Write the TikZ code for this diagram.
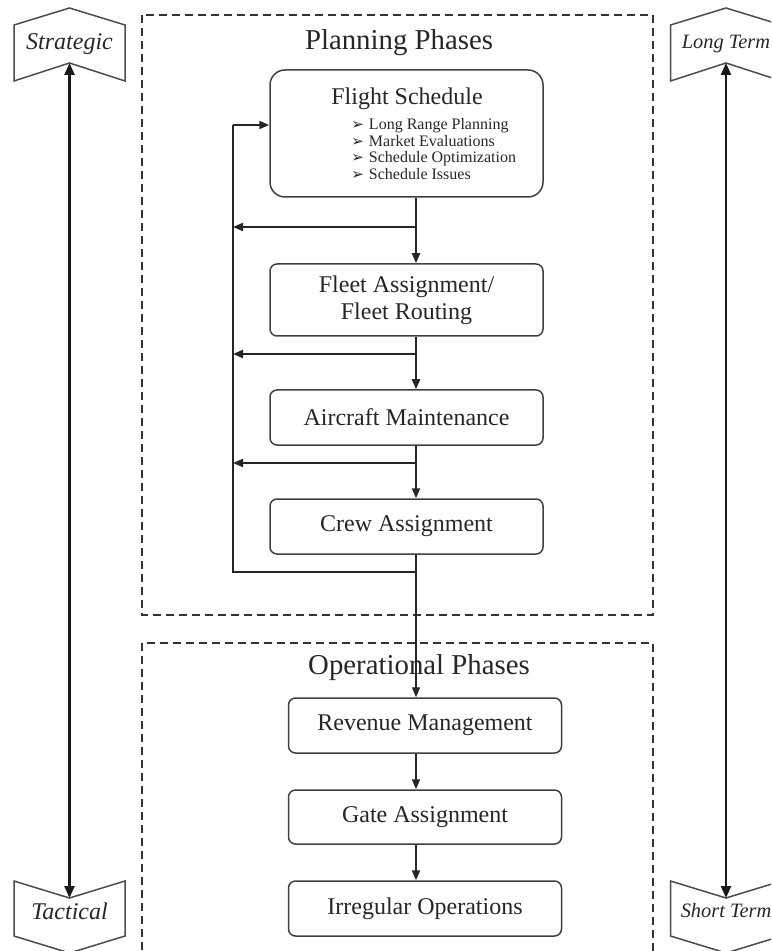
\documentclass[tikz,border=0pt]{standalone}
\usepackage{fontspec}
\setmainfont{Liberation Serif}
\newfontfamily\dingfont{DejaVu Sans}
\usetikzlibrary{calc}
\usetikzlibrary{arrows.meta}
\tikzstyle{frame}=[draw=black!80,line width=1pt,dash pattern=on 4pt off 2.5pt]
\tikzstyle{phasetitle}=[font=\fontsize{14.4}{16}\selectfont,text=black!85,inner sep=1pt]
\tikzstyle{phasebox}=[draw=black!75,line width=0.75pt,rounded corners=3.5pt,minimum width=136.5pt,inner sep=0pt,text=black!85,font=\fontsize{12}{13.5}\selectfont]
\tikzstyle{flow}=[-{Triangle[length=5pt,width=4pt]},line width=1pt,black!85]
\tikzstyle{horizon}=[{Triangle[length=6pt,width=5pt]}-{Triangle[length=6pt,width=5pt]},line width=1.2pt,black!90]
\tikzstyle{chevron}=[draw=black!70,line width=0.75pt]
\tikzstyle{chevtext}=[font=\fontsize{12}{14}\selectfont\itshape,text=black!85,inner sep=1pt]
\newcommand{\bul}{{\dingfont\fontsize{7.5}{7.5}\selectfont ➢}\hspace{2.5pt}}
\newcommand{\smallitalic}{\fontsize{10.2}{12}\selectfont}
\def\chevronup(#1)[#2]#3{% (centre x)[name]{label}, points up
  \draw[chevron] (#1-55.5,25) -- (#1,8) -- (#1+55.5,25) -- (#1+55.5,81) -- (#1,63) -- (#1-55.5,81) -- cycle;
  \node[chevtext] (#2) at (#1,44) {#3};
  \coordinate (#2tip) at (#1,63);
}
\def\chevrondown(#1)[#2]#3{% (centre x)[name]{label}, points down
  \draw[chevron] (#1-55.5,881) -- (#1,898) -- (#1+55.5,881) -- (#1+55.5,936) -- (#1,953) -- (#1-55.5,936) -- cycle;
  \node[chevtext] (#2) at (#1,911) {#3};
  \coordinate (#2tip) at (#1,898);
}
\begin{document}
\begin{tikzpicture}[x=0.5pt,y=-0.5pt]
  \useasboundingbox (0,0) rectangle (771,951);
  \clip (0,0) rectangle (771,951);
  % phase frames
  \draw[frame] (142,15) rectangle (653,615);
  \draw[frame] (142,643) rectangle (653,990);
  \node[phasetitle] (planning) at (399,43) {Planning Phases};
  \node[phasetitle] (operational) at (419,668) {Operational Phases};
  % time horizons
  \chevronup(69.5)[strategic]{Strategic}
  \chevrondown(69.5)[tactical]{Tactical}
  \chevronup(726)[longterm]{\smallitalic Long Term}
  \chevrondown(726)[shortterm]{\smallitalic Short Term}
  \draw[horizon] (strategictip) -- (tacticaltip);
  \draw[horizon] (longtermtip) -- (shorttermtip);
  % planning boxes
  \node[phasebox,rounded corners=7.5pt,minimum height=63.5pt] (flight) at (406.5,133.5) {};
  \node[font=\fontsize{12}{14}\selectfont,text=black!85,inner sep=1pt] (flighttitle) at (407,99) {Flight Schedule};
  \node[anchor=west,align=left,inner sep=0pt,text=black!85,font=\fontsize{8}{8.35}\selectfont] (flightitems) at (351,149)
    {\bul Long Range Planning\\ \bul Market Evaluations\\ \bul Schedule Optimization\\ \bul Schedule Issues};
  \node[phasebox,minimum height=36pt,align=center] (fleet) at (406.5,300) {Fleet Assignment/\\Fleet Routing};
  \node[phasebox,minimum height=27.5pt] (aircraft) at (406.5,417.5) {Aircraft Maintenance};
  \node[phasebox,minimum height=27.5pt] (crew) at (406.5,526.5) {Crew Assignment};
  % operational boxes
  \node[phasebox,minimum height=27.5pt] (revenue) at (425,725.5) {Revenue Management};
  \node[phasebox,minimum height=27pt] (gate) at (425,817) {Gate Assignment};
  \node[phasebox,minimum height=27.5pt] (irregular) at (425,908.5) {Irregular Operations};
  % spine, splits and feedback loop
  \coordinate (spine) at (416,0);
  \coordinate (fbtop) at (233,125);
  \coordinate (fbbot) at (233,572);
  \coordinate (join) at (416,572);
  \coordinate (split1) at (416,227);
  \coordinate (split2) at (416,354);
  \coordinate (split3) at (416,463);
  \draw[flow] (flight.south -| spine) -- (fleet.north -| spine);
  \draw[flow] (fleet.south -| spine) -- (aircraft.north -| spine);
  \draw[flow] (aircraft.south -| spine) -- (crew.north -| spine);
  \draw[flow] (split1) -- (split1 -| fbtop);
  \draw[flow] (split2) -- (split2 -| fbtop);
  \draw[flow] (split3) -- (split3 -| fbtop);
  \draw[line width=0.75pt,black!85] (join) -- (fbbot) -- (fbtop);
  \draw[flow] (fbtop) -- (flight.west |- fbtop);
  \draw[flow,line width=0.6pt] (crew.south -| spine) -- (revenue.north -| spine);
  \draw[flow] (revenue.south -| spine) -- (gate.north -| spine);
  \draw[flow] (gate.south -| spine) -- (irregular.north -| spine);
\end{tikzpicture}
\end{document}
